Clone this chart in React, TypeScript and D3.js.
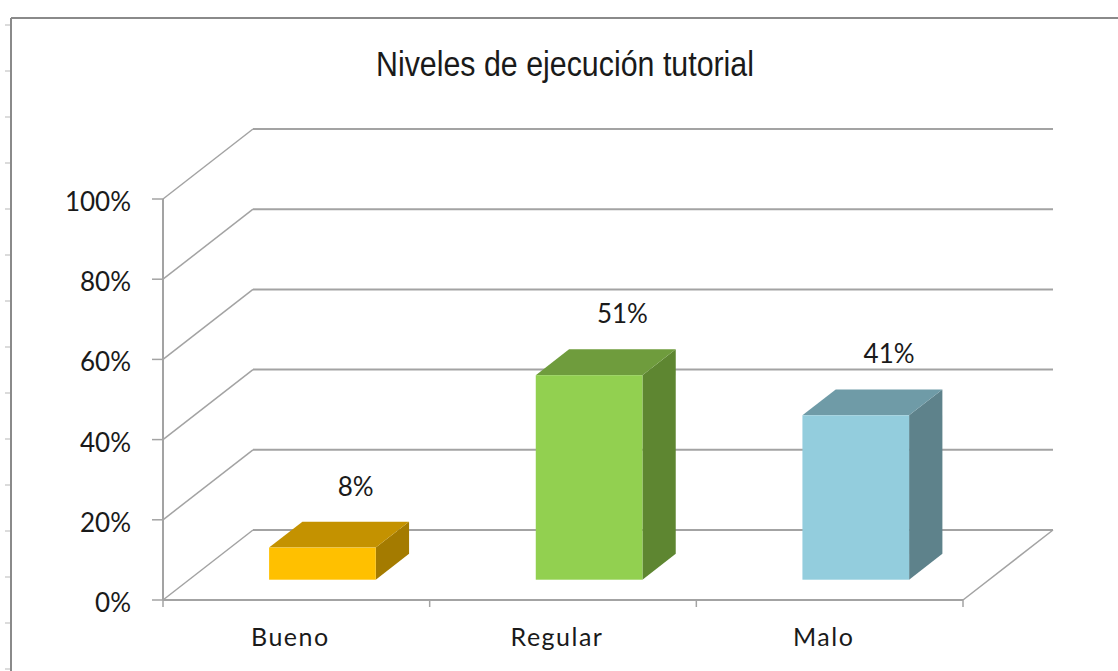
import React from "react";
import * as d3 from "d3";

const categories = ["Bueno", "Regular", "Malo"];
const values = [0.08, 0.51, 0.41];
const valueLabels = ["8%", "51%", "41%"];
const yTicks = [0, 0.2, 0.4, 0.6, 0.8, 1.0];
const title = "Niveles de ejecución tutorial";

const frontColors = ["#FFC000", "#92D050", "#93CDDD"];
const topColors = ["#C49200", "#6F9C3D", "#6F9BA7"];
const sideColors = ["#A47B00", "#5E8631", "#5E828B"];

const W = 1118;
const H = 671;
const X0 = 163;
const X1 = 963;
const Y0 = 600;
const Y1 = 199;
const DX = 90;
const DY = -70;
const F_FRONT = 0.29;
const F_BACK = 0.66;

export default function App() {
  const y = d3.scaleLinear().domain([0, 1]).range([Y0, Y1]);
  const x = d3.scaleBand<string>().domain(categories).range([X0, X1]).padding(0);
  const bw = x.bandwidth();
  const barW = bw * 0.4;
  const fmt = d3.format(".0%");
  const grid = "#A3A3A3";
  const sx = DX * F_FRONT, sy = DY * F_FRONT;
  const bx = DX * F_BACK, by = DY * F_BACK;
  const ddx = bx - sx, ddy = by - sy;

  const rulerTicks = d3.range(25, H, 46);
  const catTicks = [...categories.map((c) => x(c) as number), X1];

  return (
    <svg
      width={W}
      height={H}
      style={{ position: "absolute", left: 0, top: 0, display: "block", background: "#fff" }}
    >
      {/* page ruler ticks and chart border */}
      {rulerTicks.map((t, i) => (
        <line key={"r" + i} x1={5} x2={11} y1={t} y2={t} stroke="#c4c4c4" strokeWidth={1.2} />
      ))}
      <line x1={11} x2={11} y1={18} y2={H} stroke="#8a8a8a" strokeWidth={2} />
      <line x1={11} x2={W} y1={18} y2={18} stroke="#8a8a8a" strokeWidth={2} />

      {/* title */}
      <text
        x={565}
        y={76}
        textAnchor="middle"
        fontFamily="'Liberation Sans Narrow', 'Liberation Sans', Arial, sans-serif"
        fontSize={35}
        fill="#1a1a1a"
        textLength={378}
        lengthAdjust="spacingAndGlyphs"
      >
        {title}
      </text>

      {/* back wall gridlines and side wall diagonals */}
      {yTicks.map((t, i) => (
        <g key={"g" + i}>
          <line x1={X0 + DX} x2={X1 + DX} y1={y(t) + DY} y2={y(t) + DY} stroke={grid} strokeWidth={2} />
          <line x1={X0} x2={X0 + DX} y1={y(t)} y2={y(t) + DY} stroke={grid} strokeWidth={1.5} />
          <line x1={X0 - 11} x2={X0} y1={y(t)} y2={y(t)} stroke={grid} strokeWidth={1.5} />
          <text
            x={131}
            y={y(t) + 12}
            textAnchor="end"
            fontFamily="Lato, 'Open Sans', sans-serif"
            fontSize={26}
            fill="#1a1a1a"
          >
            {fmt(t)}
          </text>
        </g>
      ))}

      {/* axis and floor */}
      <line x1={X0} x2={X0} y1={Y1} y2={Y0} stroke={grid} strokeWidth={2} />
      <line x1={X0} x2={X1} y1={Y0} y2={Y0} stroke={grid} strokeWidth={2} />
      <line x1={X1} x2={X1 + DX} y1={Y0} y2={Y0 + DY} stroke={grid} strokeWidth={1.5} />
      {catTicks.map((t, i) => (
        <line key={"c" + i} x1={t} x2={t} y1={Y0} y2={Y0 + 7} stroke={grid} strokeWidth={1.5} />
      ))}

      {/* bars */}
      {categories.map((c, i) => {
        const left = (x(c) as number) + (bw - barW) / 2 + sx;
        const right = left + barW;
        const bottom = y(0) + sy;
        const top = y(values[i]) + sy;
        const topFace = [
          [left, top],
          [right, top],
          [right + ddx, top + ddy],
          [left + ddx, top + ddy],
        ];
        const sideFace = [
          [right, top],
          [right + ddx, top + ddy],
          [right + ddx, bottom + ddy],
          [right, bottom],
        ];
        const pts = (p: number[][]) => p.map((q) => q.join(",")).join(" ");
        return (
          <g key={"b" + i}>
            <polygon points={pts(sideFace)} fill={sideColors[i]} />
            <polygon points={pts(topFace)} fill={topColors[i]} />
            <rect x={left} y={top} width={barW} height={bottom - top} fill={frontColors[i]} />
          </g>
        );
      })}

      {/* value labels */}
      {categories.map((c, i) => (
        <text
          key={"v" + i}
          x={(x(c) as number) + bw / 2 + bx}
          y={y(values[i]) + by - 26}
          textAnchor="middle"
          fontFamily="Lato, 'Open Sans', sans-serif"
          fontSize={26}
          fill="#1a1a1a"
        >
          {valueLabels[i]}
        </text>
      ))}

      {/* category labels */}
      {categories.map((c, i) => (
        <text
          key={"l" + i}
          x={(x(c) as number) + bw / 2 - 6}
          y={646}
          textAnchor="middle"
          fontFamily="Lato, 'Open Sans', sans-serif"
          fontSize={25}
          letterSpacing={1.5}
          fill="#1a1a1a"
        >
          {c}
        </text>
      ))}
    </svg>
  );
}
